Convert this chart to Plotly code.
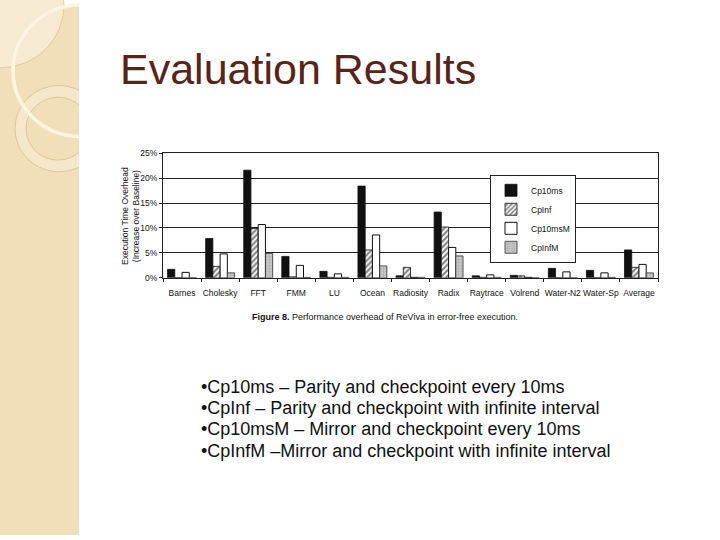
import plotly.graph_objects as go

# ---- data ----
categories = ["Barnes", "Cholesky", "FFT", "FMM", "LU", "Ocean", "Radiosity",
              "Radix", "Raytrace", "Volrend", "Water-N2", "Water-Sp", "Average"]
cp10ms  = [1.7, 7.9, 21.6, 4.3, 1.3, 18.4, 0.4, 13.2, 0.4, 0.5, 1.9, 1.5, 5.6]
cpinf   = [0.0, 2.3, 9.9, 0.2, 0.1, 5.6, 2.1, 10.2, 0.1, 0.4, 0.0, 0.0, 2.1]
cp10msm = [1.1, 4.8, 10.7, 2.5, 0.8, 8.6, 0.1, 6.1, 0.6, 0.1, 1.2, 1.0, 2.7]
cpinfm  = [0.0, 1.0, 4.9, 0.1, 0.1, 2.4, 0.1, 4.4, 0.1, 0.0, 0.0, 0.1, 1.0]
series_names = ["Cp10ms", "CpInf", "Cp10msM", "CpInfM"]
y_ticks = [0, 5, 10, 15, 20, 25]
bullets = ["•Cp10ms – Parity and checkpoint every 10ms",
           "•CpInf – Parity and checkpoint with infinite interval",
           "•Cp10msM – Mirror and checkpoint every 10ms",
           "•CpInfM –Mirror and checkpoint with infinite interval"]

W, H = 720, 540
def px(x): return x / W
def py(y): return 1 - y / H

FONT = "Liberation Sans, Arial, sans-serif"

fig = go.Figure()
fig.add_trace(go.Bar(x=categories, y=cp10ms, name=series_names[0],
                     marker=dict(color="#111111", line=dict(color="#111111", width=0.8))))
fig.add_trace(go.Bar(x=categories, y=cpinf, name=series_names[1],
                     marker=dict(color="white", line=dict(color="#111111", width=0.8),
                                 pattern=dict(shape="/", fgcolor="#111111", bgcolor="white",
                                              size=4, solidity=0.55))))
fig.add_trace(go.Bar(x=categories, y=cp10msm, name=series_names[2],
                     marker=dict(color="white", line=dict(color="#111111", width=1))))
fig.add_trace(go.Bar(x=categories, y=cpinfm, name=series_names[3],
                     marker=dict(color="#bdbdbd", line=dict(color="#333333", width=0.8),
                                 pattern=dict(shape=".", fgcolor="#8a8a8a", bgcolor="#c8c8c8",
                                              size=3, solidity=0.3))))

shapes = [
    # left decorative stripe
    dict(type="rect", xref="paper", yref="paper", x0=0, x1=px(79), y0=0, y1=1,
         fillcolor="#f1dfb9", line=dict(width=0), layer="below"),
    dict(type="circle", xref="paper", yref="paper", x0=px(-64), x1=px(64), y0=py(64), y1=py(-64),
         fillcolor="#f6ead2", line=dict(color="#dcc495", width=0.8), layer="below"),
    dict(type="circle", xref="paper", yref="paper", x0=px(59 - 44), x1=px(59 + 44),
         y0=py(126 + 44), y1=py(126 - 44),
         fillcolor="#f5e7c9", line=dict(color="#d8bf8e", width=0.8), layer="below"),
    dict(type="circle", xref="paper", yref="paper", x0=px(58 - 32), x1=px(58 + 32),
         y0=py(126 + 32), y1=py(126 - 32),
         fillcolor="#f1dfb9", line=dict(color="#d8bf8e", width=0.8), layer="below"),
    dict(type="circle", xref="paper", yref="paper", x0=px(80 - 67), x1=px(80 + 67),
         y0=py(67 + 67), y1=py(67 - 67),
         fillcolor="rgba(0,0,0,0)", line=dict(color="#fdf5e2", width=3.5), layer="below"),
    # white area right of stripe (clips decoration)
    dict(type="rect", xref="paper", yref="paper", x0=px(79), x1=1.02, y0=-0.02, y1=1.02,
         fillcolor="white", line=dict(width=0), layer="below"),
]

annotations = [
    dict(text="Evaluation Results", x=px(118), y=py(65), xref="paper", yref="paper",
         xanchor="left", yanchor="middle", showarrow=False,
         font=dict(family=FONT, size=43, color="#5a2318")),
    dict(text="Execution Time Overhead<br>(Increase over Baseline)", textangle=-90,
         x=px(130), y=py(215), xref="paper", yref="paper", xanchor="center", yanchor="middle",
         showarrow=False, font=dict(family=FONT, size=8.5, color="#111111")),
    dict(text="<b>Figure 8.</b> Performance overhead of ReViva in error-free execution.",
         x=px(385), y=py(318), xref="paper", yref="paper", xanchor="center", yanchor="middle",
         showarrow=False, font=dict(family=FONT, size=9, color="#111111")),
]
for i, b in enumerate(bullets):
    annotations.append(dict(text=b, x=px(199), y=py(389 + i * 21.7), xref="paper", yref="paper",
                            xanchor="left", yanchor="middle", showarrow=False,
                            font=dict(family=FONT, size=18, color="#111111")))

fig.update_layout(
    width=W, height=H, margin=dict(l=0, r=0, t=0, b=0),
    paper_bgcolor="white", plot_bgcolor="white",
    barmode="group", bargap=0.24, bargroupgap=0.0,
    font=dict(family=FONT, color="#111111"),
    shapes=shapes, annotations=annotations,
    legend=dict(x=px(490), y=py(173), xanchor="left", yanchor="top",
                bgcolor="white", bordercolor="#222222", borderwidth=1,
                font=dict(family=FONT, size=8.5, color="#111111"),
                itemwidth=30, tracegroupgap=0),
    xaxis=dict(domain=[px(163), px(658)], type="category", tickangle=0,
               showline=True, linecolor="#222222", linewidth=1, mirror=True,
               ticks="outside", ticklen=3, tickson="boundaries", tickcolor="#222222",
               ticklabelstandoff=7,
               tickfont=dict(family=FONT, size=8.5, color="#111111")),
    yaxis=dict(domain=[py(278), py(151)], range=[0, 25], tickvals=y_ticks,
               ticktext=[f"{v}%" for v in y_ticks],
               showline=True, linecolor="#222222", linewidth=1, mirror=True,
               showgrid=True, gridcolor="#222222", gridwidth=1,
               ticks="outside", ticklen=3, tickcolor="#222222",
               tickfont=dict(family=FONT, size=8.5, color="#111111")),
)

fig.write_html("out.html", config={"displayModeBar": False},
               post_script="document.body.style.margin='0';document.body.style.overflow='hidden';")
